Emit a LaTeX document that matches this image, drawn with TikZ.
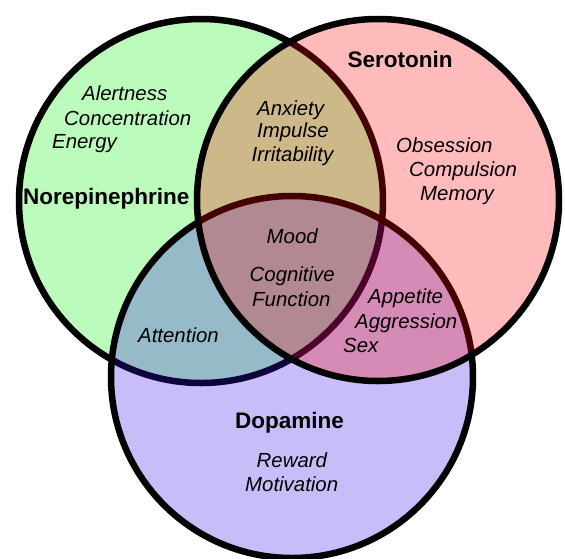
\documentclass[tikz,border=0pt]{standalone}
\usepackage{fontspec}
\setmainfont{Liberation Sans}
\definecolor{neGreen}{RGB}{0,240,0}
\definecolor{seRed}{RGB}{255,0,0}
\definecolor{doBlue}{RGB}{50,10,236}
\tikzset{
  venn/.style={circle, inner sep=0pt, outer sep=0pt, draw=black, line width=6.5pt, fill opacity=0.267},
  lab/.style={font=\fontsize{20.4}{25}\selectfont\itshape, anchor=base west, inner sep=0pt, text=black},
  ttl/.style={font=\fontsize{22.5}{27}\selectfont\bfseries, anchor=base west, inner sep=0pt, text=black}
}
\begin{document}
\begin{tikzpicture}[x=1pt,y=-1pt]
\fill[white] (0,0) rectangle (565,558);
\useasboundingbox (0,0) rectangle (565,558);
% circles: green, purple, pink (drawing order gives tinted inner arcs)
\node[venn, fill=neGreen, minimum size=364pt] (cNor) at (201,201) {};
\node[venn, fill=doBlue, minimum size=362pt] (cDop) at (292,377) {};
\node[venn, fill=seRed, minimum size=362pt] (cSer) at (378,200) {};
% Norepinephrine
\node[lab] (tAlert) at (82,100) {Alertness};
\node[lab] (tConc) at (64,125) {Concentration};
\node[lab] (tEnergy) at (52,148) {Energy};
\node[ttl] (tNor) at (23,204) {Norepinephrine};
% Norepinephrine & Serotonin
\node[lab] (tAnx) at (257,115) {Anxiety};
\node[lab] (tImp) at (257,137) {Impulse};
\node[lab] (tIrr) at (251.5,161) {Irritability};
% Serotonin
\node[ttl] (tSer) at (347.5,67) {Serotonin};
\node[lab] (tObs) at (396,152) {Obsession};
\node[lab] (tComp) at (409,176) {Compulsion};
\node[lab] (tMem) at (420,200) {Memory};
% centre
\node[lab] (tMood) at (266.5,243) {Mood};
\node[lab] (tCog) at (249.5,281) {Cognitive};
\node[lab] (tFun) at (252,306) {Function};
% Serotonin & Dopamine
\node[lab] (tApp) at (368,303) {Appetite};
\node[lab] (tAgg) at (355,328) {Aggression};
\node[lab] (tSex) at (343,352) {Sex};
% Norepinephrine & Dopamine
\node[lab] (tAtt) at (138,342) {Attention};
% Dopamine
\node[ttl] (tDop) at (235,428) {Dopamine};
\node[lab] (tRew) at (256.5,467) {Reward};
\node[lab] (tMot) at (245,491) {Motivation};
\end{tikzpicture}
\end{document}
